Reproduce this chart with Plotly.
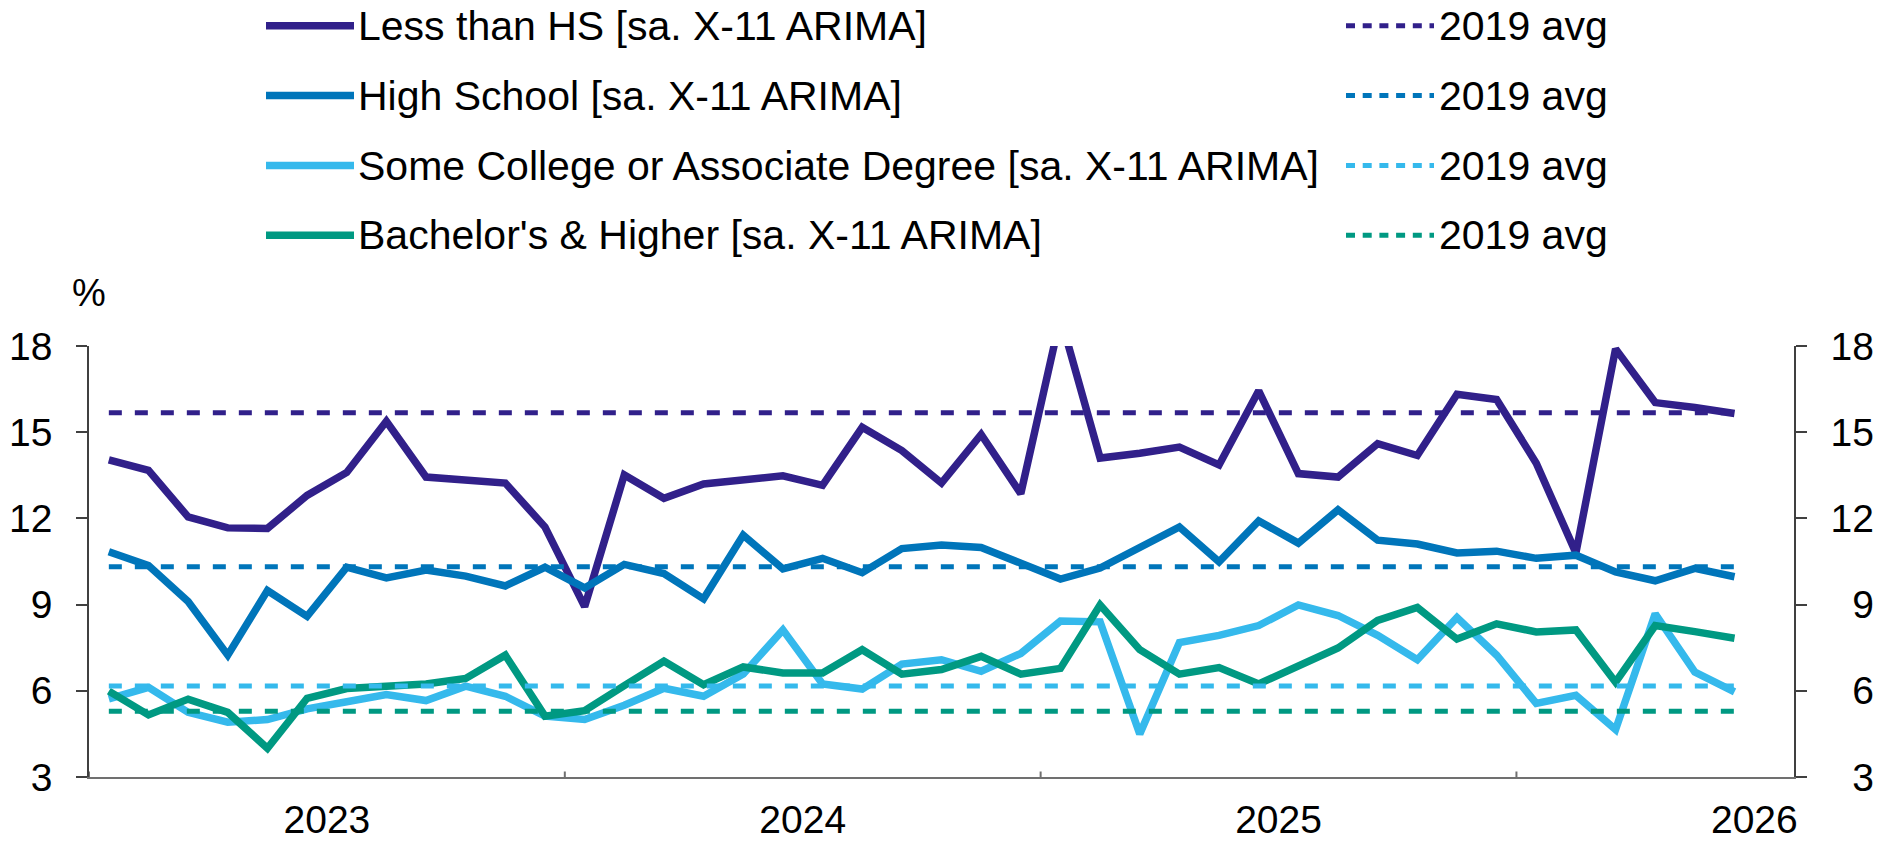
import plotly.graph_objects as go

# ---- data -------------------------------------------------------------
years = ["2023", "2024", "2025", "2026"]
year_ticks = [6, 18, 30, 42]          # centre of each year (month slots)
year_bounds = [0, 12, 24, 36]         # year separators on the date axis
n_slots = 43                          # Jan 2023 .. Jul 2026

less_than_hs = [14.04, 13.67, 12.05, 11.67, 11.65, 12.80, 13.60, 15.38, 13.44, 13.36,
                13.23, 11.70, 8.93, 13.51, 12.70, 13.20, 13.32, 13.48, 13.15, 15.17,
                14.36, 13.23, 14.92, 12.86, 19.00, 14.10, 14.27, 14.48, 13.86, 16.44,
                13.56, 13.44, 14.60, 14.19, 16.32, 16.14, 13.92, 10.80, 17.90, 16.03,
                15.86, 15.65]
high_school = [10.84, 10.36, 9.11, 7.24, 9.49, 8.59, 10.30, 9.93, 10.20, 9.99,
               9.65, 10.30, 9.58, 10.40, 10.08, 9.20, 11.42, 10.24, 10.61, 10.11,
               10.95, 11.07, 10.99, 10.42, 9.89, 10.27, 11.02, 11.70, 10.49, 11.91,
               11.14, 12.30, 11.24, 11.11, 10.80, 10.86, 10.61, 10.72, 10.14, 9.83,
               10.26, 9.97]
some_college = [5.72, 6.12, 5.25, 4.91, 5.00, 5.37, 5.62, 5.87, 5.66, 6.16,
                5.81, 5.12, 5.00, 5.50, 6.09, 5.81, 6.58, 8.12, 6.24, 6.06,
                6.93, 7.08, 6.68, 7.30, 8.43, 8.40, 4.50, 7.68, 7.93, 8.27,
                8.99, 8.62, 7.93, 7.08, 8.55, 7.24, 5.56, 5.84, 4.65, 8.68,
                6.65, 5.96]
bachelors = [5.99, 5.16, 5.71, 5.25, 4.00, 5.74, 6.08, 6.16, 6.24, 6.43,
             7.24, 5.12, 5.31, 6.18, 7.03, 6.21, 6.83, 6.62, 6.62, 7.43,
             6.58, 6.74, 7.20, 6.58, 6.78, 8.99, 7.43, 6.58, 6.81, 6.24,
             6.87, 7.49, 8.45, 8.90, 7.80, 8.33, 8.05, 8.12, 6.30, 8.27,
             8.06, 7.83]

avg_less_than_hs = 15.68
avg_high_school = 10.32
avg_some_college = 6.17
avg_bachelors = 5.29

series_names = ["Less than HS [sa. X-11 ARIMA]",
                "High School [sa. X-11 ARIMA]",
                "Some College or Associate Degree [sa. X-11 ARIMA]",
                "Bachelor's & Higher [sa. X-11 ARIMA]"]
avg_label = "2019 avg"
y_ticks = [3, 6, 9, 12, 15, 18]

# ---- style ------------------------------------------------------------
colors = ["#31208A", "#0075BA", "#35B9EC", "#009982"]
FONT = "Liberation Sans, Arial, sans-serif"
W, H = 1891, 843
L, R, T, B = 89, 97, 346, 66
PW, PH = W - L - R, H - T - B


def px_x(p):
    return (p - L) / PW


def px_y(p):
    return (H - B - p) / PH


series = [less_than_hs, high_school, some_college, bachelors]
averages = [avg_less_than_hs, avg_high_school, avg_some_college, avg_bachelors]

fig = go.Figure()

for vals, col, name in zip(series, colors, series_names):
    xs = [i + 0.5 for i in range(len(vals))]
    fig.add_trace(go.Scatter(x=xs, y=vals, mode="lines", name=name,
                             line=dict(color=col, width=7.5),
                             showlegend=False, hoverinfo="skip"))

for vals, avg, col in zip(series, averages, colors):
    xs = [0.5, len(vals) - 0.5]
    fig.add_trace(go.Scatter(x=xs, y=[avg, avg], mode="lines", name=avg_label,
                             yaxis="y2",
                             line=dict(color=col, width=5, dash="13px,13px"),
                             showlegend=False, hoverinfo="skip"))

shapes = []
# year separator ticks crossing the bottom axis
for b in year_bounds:
    shapes.append(dict(type="line", xref="x", yref="y", ysizemode="pixel",
                       yanchor=y_ticks[0], x0=b, x1=b, y0=-5.5, y1=5.5,
                       line=dict(color="#707070", width=2)))

annotations = []
row_y = [25.7, 95.6, 165.5, 235.3]
for ry, col, name in zip(row_y, colors, series_names):
    shapes.append(dict(type="line", xref="paper", yref="paper",
                       x0=px_x(266), x1=px_x(354), y0=px_y(ry), y1=px_y(ry),
                       line=dict(color=col, width=7.5)))
    shapes.append(dict(type="line", xref="paper", yref="paper",
                       x0=px_x(1346), x1=px_x(1434), y0=px_y(ry), y1=px_y(ry),
                       line=dict(color=col, width=5, dash="9px,7.7px")))
    annotations.append(dict(text=name, xref="paper", yref="paper",
                            x=px_x(356), y=px_y(ry), xanchor="left", yanchor="middle",
                            showarrow=False, font=dict(size=41, color="black", family=FONT)))
    annotations.append(dict(text=avg_label, xref="paper", yref="paper",
                            x=px_x(1437), y=px_y(ry), xanchor="left", yanchor="middle",
                            showarrow=False, font=dict(size=41, color="black", family=FONT)))

annotations.append(dict(text="%", xref="paper", yref="paper",
                        x=px_x(89), y=px_y(293), xanchor="center", yanchor="middle",
                        showarrow=False, font=dict(size=38, color="black", family=FONT)))

right_text = [("\u2007" + str(v)) if v < 10 else str(v) for v in y_ticks]

fig.update_layout(
    width=W, height=H,
    margin=dict(l=L, r=R, t=T, b=B, pad=0, autoexpand=False),
    paper_bgcolor="white", plot_bgcolor="white",
    font=dict(family=FONT, size=39, color="black"),
    showlegend=False,
    shapes=shapes,
    annotations=annotations,
    xaxis=dict(range=[0, n_slots], tickmode="array", tickvals=year_ticks,
               ticktext=years, ticks="", showline=True, linecolor="#707070",
               linewidth=2, showgrid=False, zeroline=False, automargin=False,
               ticklabelstandoff=7,
               tickfont=dict(size=39, family=FONT, color="black")),
    yaxis=dict(range=[3, 18], tickmode="array", tickvals=y_ticks,
               ticks="outside", ticklen=11, tickwidth=1.5, tickcolor="#404040",
               showline=True, linecolor="#404040", linewidth=1.5, automargin=False,
               showgrid=False, zeroline=False, ticklabelstandoff=16,
               tickfont=dict(size=39, family=FONT, color="black")),
    yaxis2=dict(range=[3, 18], tickmode="array", tickvals=y_ticks,
                ticktext=right_text, overlaying="y", side="right", anchor="x",
                ticks="outside", ticklen=11, tickwidth=1.5, tickcolor="#404040",
                showline=True, linecolor="#404040", linewidth=1.5, automargin=False,
                showgrid=False, zeroline=False, ticklabelstandoff=16,
                tickfont=dict(size=39, family=FONT, color="black")),
)

fig.write_html("out.html")
